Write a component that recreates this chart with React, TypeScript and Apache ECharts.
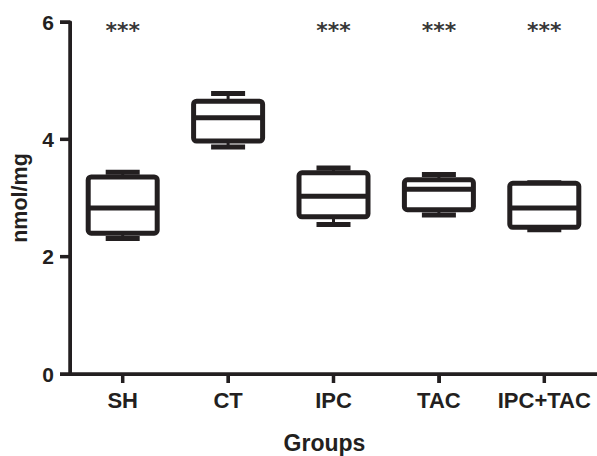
import React, { useEffect, useRef } from "react";
import * as echarts from "echarts";

const categories = ["SH", "CT", "IPC", "TAC", "IPC+TAC"];
const mins = [2.31, 3.87, 2.55, 2.71, 2.46];
const q1s = [2.4, 3.97, 2.68, 2.8, 2.5];
const medians = [2.83, 4.37, 3.03, 3.15, 2.83];
const q3s = [3.36, 4.65, 3.43, 3.31, 3.25];
const maxs = [3.44, 4.78, 3.51, 3.4, 3.26];
const significance = ["***", "", "***", "***", "***"];
const yTicks = [0, 2, 4, 6];

const INK = "#231f20";
const FONT = "'Liberation Sans', Arial, sans-serif";

export default function App() {
  const ref = useRef<HTMLDivElement>(null);
  useEffect(() => {
    if (!ref.current) return;
    const chart = echarts.init(ref.current, null, { renderer: "svg" });
    const boxData = categories.map((_, i) => [i, mins[i], q1s[i], medians[i], q3s[i], maxs[i]]);
    const starData = categories
      .map((_, i) => ({ value: [i, yTicks[yTicks.length - 1]], label: significance[i] }))
      .filter((d) => d.label !== "");
    const axisStyle = { stroke: INK, lineWidth: 3.5 };
    chart.setOption({
      animation: false,
      grid: { left: 70, top: 22, width: 527, bottom: 82, containLabel: false, outerBoundsMode: "none" },
      xAxis: {
        type: "category",
        data: categories,
        name: "Groups",
        nameLocation: "middle",
        nameGap: 57,
        nameTextStyle: { fontFamily: FONT, fontWeight: "bold", fontSize: 23, color: INK, padding: [0, 18, 0, 0] },
        axisLine: { show: true, lineStyle: { color: INK, width: 3 } },
        axisTick: { show: true, alignWithLabel: true, length: 9, lineStyle: { color: INK, width: 3 } },
        axisLabel: { interval: 0, fontFamily: FONT, fontWeight: "bold", fontSize: 22, color: INK, margin: 15 },
      },
      yAxis: {
        type: "value",
        min: 0,
        max: 6,
        interval: 2,
        name: "nmol/mg",
        nameLocation: "middle",
        nameGap: 37,
        nameRotate: 90,
        nameTextStyle: { fontFamily: FONT, fontWeight: "bold", fontSize: 21.5, color: INK },
        axisLine: { show: true, lineStyle: { color: INK, width: 3 } },
        axisTick: { show: true, length: 10, lineStyle: { color: INK, width: 3 } },
        axisLabel: { fontFamily: FONT, fontWeight: "bold", fontSize: 21, color: INK, margin: 16 },
        splitLine: { show: false },
      },
      series: [
        {
          // axis lines and ticks, placed through the chart's own scales
          type: "custom",
          data: [[0, 0]],
          silent: true,
          clip: false,
          z: 5,
          renderItem: (params: any, api: any) => {
            const cs = params.coordSys;
            const left = cs.x;
            const bottom = cs.y + cs.height;
            const right = cs.x + cs.width;
            const children: any[] = [
              { type: "line", shape: { x1: left, y1: cs.y, x2: left, y2: bottom }, style: axisStyle },
              { type: "line", shape: { x1: left, y1: bottom, x2: right, y2: bottom }, style: axisStyle },
            ];
            yTicks.forEach((v) => {
              const p = api.coord([0, v]);
              children.push({ type: "line", shape: { x1: left - 10, y1: p[1], x2: left, y2: p[1] }, style: axisStyle });
            });
            categories.forEach((_, i) => {
              const p = api.coord([i, 0]);
              children.push({ type: "line", shape: { x1: p[0], y1: bottom, x2: p[0], y2: bottom + 9 }, style: axisStyle });
            });
            return { type: "group", children };
          },
        },
        {
          type: "custom",
          data: boxData,
          encode: { x: 0, y: [1, 2, 3, 4, 5] },
          z: 4,
          renderItem: (params: any, api: any) => {
            const idx = api.value(0);
            const pMin = api.coord([idx, api.value(1)]);
            const pQ1 = api.coord([idx, api.value(2)]);
            const pMed = api.coord([idx, api.value(3)]);
            const pQ3 = api.coord([idx, api.value(4)]);
            const pMax = api.coord([idx, api.value(5)]);
            const cx = pMed[0];
            const half = 34.5;
            const capHalf = 17;
            return {
              type: "group",
              children: [
                { type: "line", shape: { x1: cx, y1: pQ3[1], x2: cx, y2: pMax[1] }, style: { stroke: INK, lineWidth: 3 } },
                { type: "line", shape: { x1: cx, y1: pQ1[1], x2: cx, y2: pMin[1] }, style: { stroke: INK, lineWidth: 3 } },
                { type: "line", shape: { x1: cx - capHalf, y1: pMax[1], x2: cx + capHalf, y2: pMax[1] }, style: { stroke: INK, lineWidth: 5 } },
                { type: "line", shape: { x1: cx - capHalf, y1: pMin[1], x2: cx + capHalf, y2: pMin[1] }, style: { stroke: INK, lineWidth: 5 } },
                {
                  type: "rect",
                  shape: { x: cx - half, y: pQ3[1], width: half * 2, height: pQ1[1] - pQ3[1], r: 3 },
                  style: { stroke: INK, fill: "#ffffff", lineWidth: 5 },
                },
                { type: "line", shape: { x1: cx - half, y1: pMed[1], x2: cx + half, y2: pMed[1] }, style: { stroke: INK, lineWidth: 5 } },
              ],
            };
          },
        },
        {
          type: "scatter",
          data: starData,
          symbolSize: 0,
          silent: true,
          itemStyle: { color: INK },
          label: {
            show: true,
            position: "inside",
            offset: [0, 8],
            formatter: (p: any) => p.data.label,
            fontFamily: "'DejaVu Sans', sans-serif",
            fontWeight: "bold",
            fontSize: 22,
            color: "#000000",
          },
        },
      ],
    });
    return () => chart.dispose();
  }, []);
  return <div ref={ref} style={{ width: 597, height: 456, position: "absolute", left: 0, top: 0 }} />;
}
